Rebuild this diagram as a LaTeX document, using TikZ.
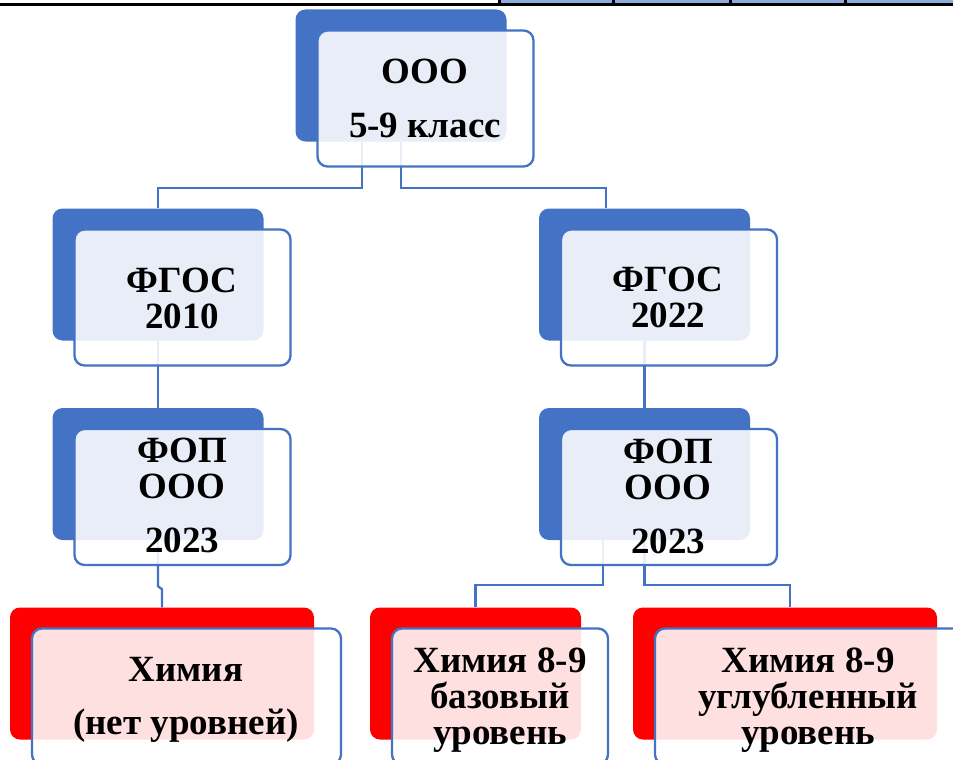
\documentclass[tikz,border=0pt]{standalone}
\usepackage{fontspec}
\setmainfont{Liberation Serif}
\usepackage{tikz}
\usetikzlibrary{positioning}

\definecolor{accblue}{HTML}{4472C4}
\definecolor{accred}{HTML}{FF0000}
\definecolor{stripblue}{HTML}{8EAADB}

\begin{document}
\begin{tikzpicture}[x=1pt,y=-1pt,
  back/.style={rounded corners=10pt,inner sep=0pt,minimum width=211pt,minimum height=132pt},
  wideback/.style={back,minimum width=304pt},
  front/.style={draw=accblue,line width=2.3pt,fill=white,fill opacity=0.88,rounded corners=10pt,inner sep=0pt,minimum width=216pt,minimum height=136pt},
  widefront/.style={front,minimum width=309pt},
  label/.style={font=\fontsize{37}{36}\selectfont\bfseries,align=center,inner sep=0pt,anchor=base},
  link/.style={accblue,line width=2.3pt}]
        \useasboundingbox (0,0) rectangle (953,760);
        \clip (0,0) rectangle (953,760);
        % table edge at the top
        \fill [stripblue] (499,0) rectangle (953,4);
        \draw [black,line width=3pt] (0,5) -- (953,5);
        \foreach \sx in {499,613,730,845}
          \draw [black,line width=3pt] (\sx,0) -- (\sx,5);
        % back plates
        \node [back,fill=accblue] (ooo) at (401,75.5) {};
        \node [back,fill=accblue] (fgos10) at (158,274.5) {};
        \node [back,fill=accblue] (fop10) at (158,474) {};
        \node [back,fill=accblue] (fgos22) at (644.5,274.5) {};
        \node [back,fill=accblue] (fop22) at (644.5,474) {};
        \node [wideback,fill=accred] (chem) at (162,673.5) {};
        \node [back,fill=accred] (chembase) at (475.5,673.5) {};
        \node [wideback,fill=accred] (chemdeep) at (785,673.5) {};
        % connectors
        \draw [link] ([xshift=-39pt]ooo.south) -- ++(0,46) -| (fgos10.north);
        \draw [link] (ooo.south) -- ++(0,46) -| ([xshift=-38.5pt]fgos22.north);
        \draw [link] (fgos10.south) -- (fop10.north);
        \draw [link] (fop10.south) -- ++(0,46) -- ++(4,3) -- (chem.north);
        \draw [link] (fgos22.south) -- (fop22.north);
        \draw [link] ([xshift=-41.5pt]fop22.south) -- ++(0,45) -| (chembase.north);
        \draw [link] (fop22.south) -- ++(0,45) -| ([xshift=5pt]chemdeep.north);
        % front plates
        \node [front] (ooo-f) at ([xshift=24.5pt,yshift=-23pt]ooo.center) {};
        \node [front] (fgos10-f) at ([xshift=24.5pt,yshift=-23pt]fgos10.center) {};
        \node [front] (fop10-f) at ([xshift=24.5pt,yshift=-23pt]fop10.center) {};
        \node [front] (fgos22-f) at ([xshift=24.5pt,yshift=-23pt]fgos22.center) {};
        \node [front] (fop22-f) at ([xshift=24.5pt,yshift=-23pt]fop22.center) {};
        \node [widefront] (chem-f) at ([xshift=24.5pt,yshift=-23pt]chem.center) {};
        \node [front] (chembase-f) at ([xshift=24.5pt,yshift=-23pt]chembase.center) {};
        \node [widefront] (chemdeep-f) at ([xshift=24.5pt,yshift=-23pt]chemdeep.center) {};
        % texts (anchored at the last baseline)
        \node [label] (ooo-t) at (425,137) {ООО\\[18pt]5-9 класс};
        \node [label] (fgos10-t) at (182,328) {ФГОС\\2010};
        \node [label] (fop10-t) at (182,552) {ФОП\\ООО\\[18pt]2023};
        \node [label] (fgos22-t) at (668,327) {ФГОС\\2022};
        \node [label] (fop22-t) at (668,553) {ФОП\\ООО\\[18pt]2023};
        \node [label] (chem-t) at (186,734) {Химия\\[17pt](нет уровней)};
        \node [label] (chembase-t) at (500,744) {Химия 8-9\\базовый\\уровень};
        \node [label] (chemdeep-t) at (808,744) {Химия 8-9\\углубленный\\уровень};
\end{tikzpicture}
\end{document}
